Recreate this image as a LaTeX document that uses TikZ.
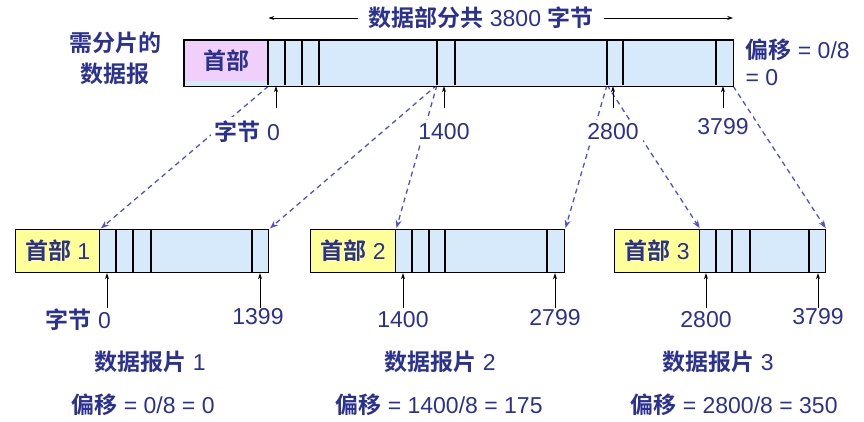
\documentclass[tikz,border=0pt]{standalone}
\usepackage{fontspec}
\setmainfont{Liberation Sans}
\newfontfamily\zhfont{Noto Sans CJK SC}[BoldFont={Noto Sans CJK SC Bold}]
\usetikzlibrary{positioning,arrows.meta,backgrounds}
\definecolor{txtblue}{RGB}{43,49,143}
\definecolor{databg}{RGB}{214,234,252}
\definecolor{hdrpink}{RGB}{240,208,250}
\definecolor{hdryellow}{RGB}{255,255,153}
\definecolor{dashblue}{RGB}{80,80,215}
\newcommand{\zh}[1]{{\zhfont\bfseries #1}}

\begin{document}
\begin{tikzpicture}[
  x=1pt, y=-1pt,
  font=\fontsize{23}{27}\selectfont, text=txtblue,
  bar/.style={draw, line width=1.2pt, fill=databg, inner sep=0pt, anchor=north west},
  hdr/.style={draw, line width=1.2pt, fill=hdryellow, inner sep=0pt, anchor=north west, minimum height=43pt},
  divline/.style={line width=1.2pt},
  lbl/.style={fill=white, inner sep=4pt},
  ptr/.style={-{Stealth[length=6pt,width=4pt]}, line width=0.9pt},
  frag/.style={-{Stealth[length=8pt,width=6pt]}, dashblue, line width=1.3pt, dash pattern=on 5pt off 4pt, shorten >=1pt}
]
\useasboundingbox (0,0) rectangle (864,422);

% original datagram
\node[bar, draw=none, minimum width=548pt, minimum height=45pt] (orig) at (184,40) {};
\node[fill=hdrpink, inner sep=0pt, anchor=north west, minimum width=84pt, minimum height=41pt] (hd0) at (184,40) {\zh{首部}};
\foreach \x in {268,285,302,319,437,455,607,623,716}
  \draw[divline] (\x,40) -- (\x,85);
\draw[divline] (orig.north west) rectangle (orig.south east);

\node[align=center, font=\fontsize{23}{31}\selectfont] (need) at (115,58) {\zh{需分片的}\\\zh{数据报}};
\node[align=left, anchor=west, font=\fontsize{23}{27}\selectfont] (off0) at (742,62) {\zh{偏移} = 0/8\\= 0};

\node[inner xsep=10pt] (total) at (481,18) {\zh{数据部分共} 3800 \zh{字节}};
\draw[ptr, black] (total.west) -- (total.west -| hd0.east);
\draw[ptr, black] (total.east) -- (total.east -| orig.east);

% byte marks, original
\coordinate (p0) at (276,108);
\coordinate (p1400) at (444,108);
\coordinate (p2800) at (613,108);
\coordinate (p3799) at (723,108);
\node[lbl, anchor=east] (l0) at (284,132) {\zh{字节} 0};
\node[lbl] (l1400) at (444,132) {1400};
\node[lbl] (l2800) at (613,132) {2800};
\node[lbl] (l3799) at (723,127) {3799};
\foreach \p in {p0,p1400,p2800,p3799}
  \draw[ptr, black] (\p) -- (\p |- orig.south);

% fragments
\node[bar, minimum width=253pt, minimum height=43pt] (f1) at (15,229) {};
\node[hdr, minimum width=84pt] (hd1) at (15,229) {\zh{首部} 1};
\foreach \x in {116,133,151,252}
  \draw[divline] (\x,229) -- (\x,272);

\node[bar, minimum width=254pt, minimum height=43pt] (f2) at (310,229) {};
\node[hdr, minimum width=85pt] (hd2) at (310,229) {\zh{首部} 2};
\foreach \x in {412,429,445,547}
  \draw[divline] (\x,229) -- (\x,272);

\node[bar, minimum width=211pt, minimum height=43pt] (f3) at (614,229) {};
\node[hdr, minimum width=85pt] (hd3) at (614,229) {\zh{首部} 3};
\foreach \x in {716,732,750,809}
  \draw[divline] (\x,229) -- (\x,272);

% byte marks, fragments
\coordinate (q1a) at (107,308);
\coordinate (q1b) at (260,308);
\coordinate (q2a) at (403,308);
\coordinate (q2b) at (555,308);
\coordinate (q3a) at (706,308);
\coordinate (q3b) at (818,308);
\node[lbl, anchor=east] (m1a) at (115,320) {\zh{字节} 0};
\node[lbl] (m1b) at (258,317) {1399};
\node[lbl] (m2a) at (403,320) {1400};
\node[lbl] (m2b) at (555,318) {2799};
\node[lbl] (m3a) at (706,320) {2800};
\node[lbl] (m3b) at (818,317) {3799};
\draw[ptr, black] (q1a) -- (q1a |- f1.south);
\draw[ptr, black] (q1b) -- (q1b |- f1.south);
\draw[ptr, black] (q2a) -- (q2a |- f2.south);
\draw[ptr, black] (q2b) -- (q2b |- f2.south);
\draw[ptr, black] (q3a) -- (q3a |- f3.south);
\draw[ptr, black] (q3b) -- (q3b |- f3.south);

\node (n1) at (150,362) {\zh{数据报片} 1};
\node (n2) at (440,362) {\zh{数据报片} 2};
\node (n3) at (718,362) {\zh{数据报片} 3};
\node (o1) at (143,405) {\zh{偏移} = 0/8 = 0};
\node (o2) at (439,405) {\zh{偏移} = 1400/8 = 175};
\node (o3) at (734,405) {\zh{偏移} = 2800/8 = 350};

% fragment mapping
\coordinate (c0) at (hd0.east |- orig.south);
\coordinate (c1400) at (437,85);
\coordinate (c2800) at (607,85);
\begin{scope}[on background layer]
\draw[frag] (c0) -- (hd1.north east);
\draw[frag] (c1400) -- (f1.north east);
\draw[frag] (c1400) -- (hd2.north east);
\draw[frag] (c2800) -- (f2.north east);
\draw[frag] (c2800) -- (hd3.north east);
\draw[frag] (orig.south east) -- (f3.north east);
\end{scope}
\end{tikzpicture}
\end{document}
